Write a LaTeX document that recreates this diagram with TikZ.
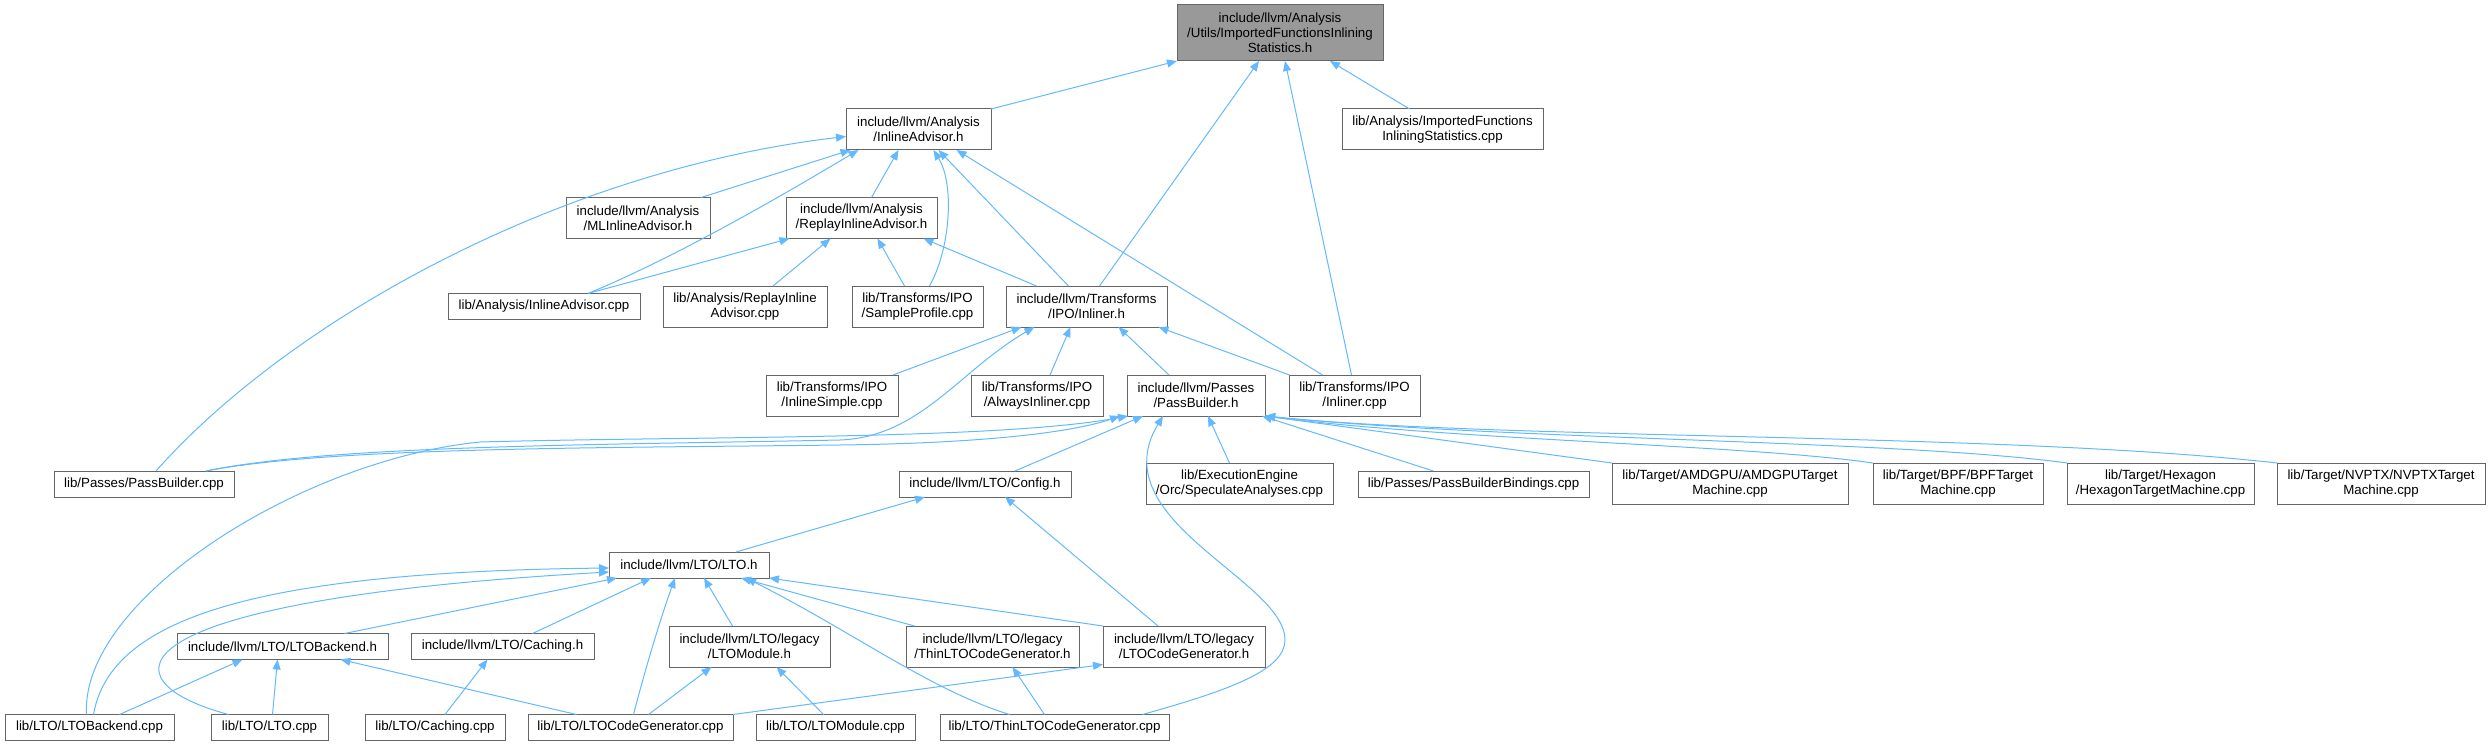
\documentclass[tikz,border=0pt]{standalone}
\usepackage{fontspec}
\setmainfont{Liberation Sans}
\usetikzlibrary{arrows.meta, positioning}
\definecolor{edgeblue}{HTML}{63B8FF}
\definecolor{boxgray}{HTML}{666666}
\definecolor{rootgray}{HTML}{999999}

\begin{document}
\begin{tikzpicture}[
    x=1pt, y=-1pt,
    filebox/.style={rectangle, draw=boxgray, line width=1pt, fill=white, inner sep=0pt, outer sep=0pt, align=center, font=\fontsize{13.3}{15}\selectfont},
    oneline/.style={filebox, minimum height=26pt},
    twoline/.style={filebox, minimum height=41pt},
    threeline/.style={filebox, minimum height=56pt},
    incl/.style={draw=edgeblue, line width=1pt, -{Triangle[length=10pt,width=8pt]}}
  ]
  \useasboundingbox (0,0) rectangle (2492,746);

  % Root header
  \node[threeline, fill=rootgray, minimum width=206pt] (root) at (1280,33) {include/llvm/Analysis\hfill\\/Utils/ImportedFunctionsInlining\hfill\\Statistics.h};

  % Analysis
  \node[twoline, minimum width=145pt] (ia) at (918.5,129.5) {include/llvm/Analysis\\/InlineAdvisor.h};
  \node[twoline, minimum width=201pt] (ifis) at (1442.5,129.5) {lib/Analysis/ImportedFunctions\\InliningStatistics.cpp};
  \node[twoline, minimum width=144pt] (ml) at (638,218) {include/llvm/Analysis\\/MLInlineAdvisor.h};
  \node[twoline, minimum width=151pt] (ria) at (861.5,218) {include/llvm/Analysis\hfill\\/ReplayInlineAdvisor.h};
  \node[oneline, minimum width=192pt] (iacpp) at (544,306.5) {lib/Analysis/InlineAdvisor.cpp};
  \node[twoline, minimum width=164pt] (riacpp) at (745,306.5) {lib/Analysis/ReplayInline\\Advisor.cpp};

  % Transforms/IPO
  \node[twoline, minimum width=131pt] (sp) at (917.5,306.5) {lib/Transforms/IPO\\/SampleProfile.cpp};
  \node[twoline, minimum width=161pt] (inlh) at (1086.5,306.5) {include/llvm/Transforms\\/IPO/Inliner.h};
  \node[twoline, minimum width=132pt] (isimple) at (832,395.5) {lib/Transforms/IPO\\/InlineSimple.cpp};
  \node[twoline, minimum width=132pt] (always) at (1037,395.5) {lib/Transforms/IPO\\/AlwaysInliner.cpp};
  \node[twoline, minimum width=138pt] (pbh) at (1196,395.5) {include/llvm/Passes\\/PassBuilder.h};
  \node[twoline, minimum width=131pt] (inlcpp) at (1354.5,395.5) {lib/Transforms/IPO\\/Inliner.cpp};

  % Passes and targets
  \node[oneline, minimum width=180pt] (pbcpp) at (144,484) {lib/Passes/PassBuilder.cpp};
  \node[oneline, minimum width=172pt] (config) at (985,484) {include/llvm/LTO/Config.h};
  \node[twoline, minimum width=187pt] (spec) at (1239.5,483.5) {lib/ExecutionEngine\hfill\\/Orc/SpeculateAnalyses.cpp};
  \node[oneline, minimum width=231pt] (pbb) at (1473.5,484) {lib/Passes/PassBuilderBindings.cpp};
  \node[twoline, minimum width=236pt] (amdgpu) at (1730,483.5) {lib/Target/AMDGPU/AMDGPUTarget\\Machine.cpp};
  \node[twoline, minimum width=170pt] (bpf) at (1958,483.5) {lib/Target/BPF/BPFTarget\\Machine.cpp};
  \node[twoline, minimum width=187pt] (hex) at (2160.5,483.5) {lib/Target/Hexagon\hfill\\/HexagonTargetMachine.cpp};
  \node[twoline, minimum width=208pt] (nvptx) at (2381,483.5) {lib/Target/NVPTX/NVPTXTarget\\Machine.cpp};

  % LTO
  \node[oneline, minimum width=160pt] (lto) at (689,565) {include/llvm/LTO/LTO.h};
  \node[oneline, minimum width=211pt] (ltobh) at (282.5,646.5) {include/llvm/LTO/LTOBackend.h};
  \node[oneline, minimum width=183pt] (cachh) at (502.5,646.5) {include/llvm/LTO/Caching.h};
  \node[twoline, minimum width=161pt] (ltomh) at (749.5,646.5) {include/llvm/LTO/legacy\\/LTOModule.h};
  \node[twoline, minimum width=173pt] (thinh) at (992.5,646.5) {include/llvm/LTO/legacy\hfill\\/ThinLTOCodeGenerator.h};
  \node[twoline, minimum width=162pt] (ltocgh) at (1184,646.5) {include/llvm/LTO/legacy\\/LTOCodeGenerator.h};
  \node[oneline, minimum width=169pt] (ltobcpp) at (89.5,727.5) {lib/LTO/LTOBackend.cpp};
  \node[oneline, minimum width=117pt] (ltocpp) at (269.5,727.5) {lib/LTO/LTO.cpp};
  \node[oneline, minimum width=140pt] (cachcpp) at (435,727.5) {lib/LTO/Caching.cpp};
  \node[oneline, minimum width=205pt] (ltocgcpp) at (630.5,727.5) {lib/LTO/LTOCodeGenerator.cpp};
  \node[oneline, minimum width=159pt] (ltomcpp) at (835.5,727.5) {lib/LTO/LTOModule.cpp};
  \node[oneline, minimum width=229pt] (thincpp) at (1054.5,727.5) {lib/LTO/ThinLTOCodeGenerator.cpp};

  % Connections into the root
  \draw[incl] (ia.north east) -- ([xshift=-103]root.south);
  \draw[incl] ([xshift=13]inlh.north) -- ([xshift=-21]root.south);
  \draw[incl] ([xshift=-3]inlcpp.north) -- ([xshift=5]root.south);
  \draw[incl] ([xshift=-33]ifis.north) -- ([xshift=50]root.south);

  % Connections into InlineAdvisor.h
  \draw[incl] ([xshift=63]ml.north) -- ([xshift=-68]ia.south);
  \draw[incl] ([xshift=44]iacpp.north) .. controls (688,252) and (808,180) .. ([xshift=-60]ia.south);
  \draw[incl] ([xshift=12]pbcpp.north) .. controls (290,320) and (560,170) .. ([yshift=-7]ia.west);
  \draw[incl] ([xshift=10]ria.north) -- ([xshift=-20]ia.south);
  \draw[incl] ([xshift=12]sp.north) .. controls (950,250) and (955,185) .. ([xshift=15]ia.south);
  \draw[incl] ([xshift=-18]inlh.north) -- ([xshift=20]ia.south);
  \draw[incl] ([xshift=-32]inlcpp.north) -- ([xshift=38]ia.south);

  % Connections into ReplayInlineAdvisor.h
  \draw[incl] ([xshift=44]iacpp.north) -- ([xshift=-72]ria.south);
  \draw[incl] ([xshift=28]riacpp.north) -- ([xshift=-31]ria.south);
  \draw[incl] ([xshift=-13]sp.north) -- ([xshift=16]ria.south);
  \draw[incl] ([xshift=-50]inlh.north) -- ([xshift=62]ria.south);

  % Connections into Inliner.h
  \draw[incl] ([xshift=61]isimple.north) -- ([xshift=-65]inlh.south);
  \draw[incl] ([xshift=62]pbcpp.north) .. controls (330,445) and (600,445) .. (840,440) .. controls (920,437) and (960,370) .. ([xshift=-52]inlh.south);
  \draw[incl] ([xshift=13]always.north) -- ([xshift=-16]inlh.south);
  \draw[incl] ([xshift=-27]pbh.north) -- ([xshift=32]inlh.south);
  \draw[incl] ([xshift=-65]inlcpp.north) -- ([xshift=72]inlh.south);

  % Connections into PassBuilder.h
  \draw[incl] ([xshift=62]pbcpp.north) .. controls (330,447) and (600,448) .. (840,445) .. controls (1000,443) and (1080,430) .. ([xshift=-76]pbh.south);
  \draw[incl] ([xshift=-3]ltobcpp.north) .. controls (80,600) and (300,460) .. (480,442) .. controls (700,436) and (1000,440) .. ([xshift=-68]pbh.south);
  \draw[incl] ([xshift=30]config.north) -- ([xshift=-53]pbh.south);
  \draw[incl] ([xshift=88]thincpp.north) .. controls (1230,690) and (1285,670) .. (1285,640) .. controls (1285,580) and (1100,520) .. ([xshift=-33]pbh.south);
  \draw[incl] ([xshift=-10]spec.north) -- ([xshift=12]pbh.south);
  \draw[incl] ([xshift=-40]pbb.north) -- ([xshift=-3]pbh.south east);
  \draw[incl] (amdgpu.north west) -- (pbh.south east);
  \draw[incl] (bpf.north west) .. controls (1750,445) and (1450,440) .. (pbh.south east);
  \draw[incl] (hex.north west) .. controls (1900,440) and (1500,440) .. (pbh.south east);
  \draw[incl] (nvptx.north west) .. controls (2000,432) and (1500,440) .. (pbh.south east);

  % Connections into Config.h
  \draw[incl] ([xshift=47]lto.north) -- ([xshift=-60]config.south);
  \draw[incl] ([xshift=-26]ltocgh.north) -- ([xshift=20]config.south);

  % Connections into LTO.h
  \draw[incl] ([xshift=4]ltobcpp.north) .. controls (110,620) and (250,572) .. ([yshift=-3]lto.west);
  \draw[incl] ([xshift=-41]ltocpp.north) .. controls (100,680) and (110,600) .. ([yshift=-7]lto.west);
  \draw[incl] ([xshift=62]ltobh.north) -- ([xshift=-72]lto.south);
  \draw[incl] ([xshift=30]cachh.north) -- ([xshift=-38]lto.south);
  \draw[incl] ([xshift=3]ltocgcpp.north) .. controls (645,670) and (660,620) .. ([xshift=-14]lto.south);
  \draw[incl] ([xshift=-17]ltomh.north) -- ([xshift=15]lto.south);
  \draw[incl] ([xshift=-78]thinh.north) -- ([xshift=52]lto.south);
  \draw[incl] ([xshift=-45]thincpp.north) .. controls (930,690) and (850,630) .. ([xshift=57]lto.south);
  \draw[incl] (ltocgh.north west) -- (lto.south east);

  % Connections into the legacy and backend headers
  \draw[incl] ([xshift=30]ltobcpp.north) -- ([xshift=-40]ltobh.south);
  \draw[incl] ([xshift=3]ltocpp.north) -- ([xshift=-5]ltobh.south);
  \draw[incl] ([xshift=-54]ltocgcpp.north) -- ([xshift=58]ltobh.south);
  \draw[incl] ([xshift=10]cachcpp.north) -- ([xshift=-15]cachh.south);
  \draw[incl] ([xshift=18]ltocgcpp.north) -- ([xshift=-38]ltomh.south);
  \draw[incl] ([xshift=-12]ltomcpp.north) -- ([xshift=27]ltomh.south);
  \draw[incl] ([xshift=-10]thincpp.north) -- ([xshift=20]thinh.south);
  \draw[incl] (ltocgcpp.north east) -- ([yshift=-18]ltocgh.west);
\end{tikzpicture}
\end{document}
